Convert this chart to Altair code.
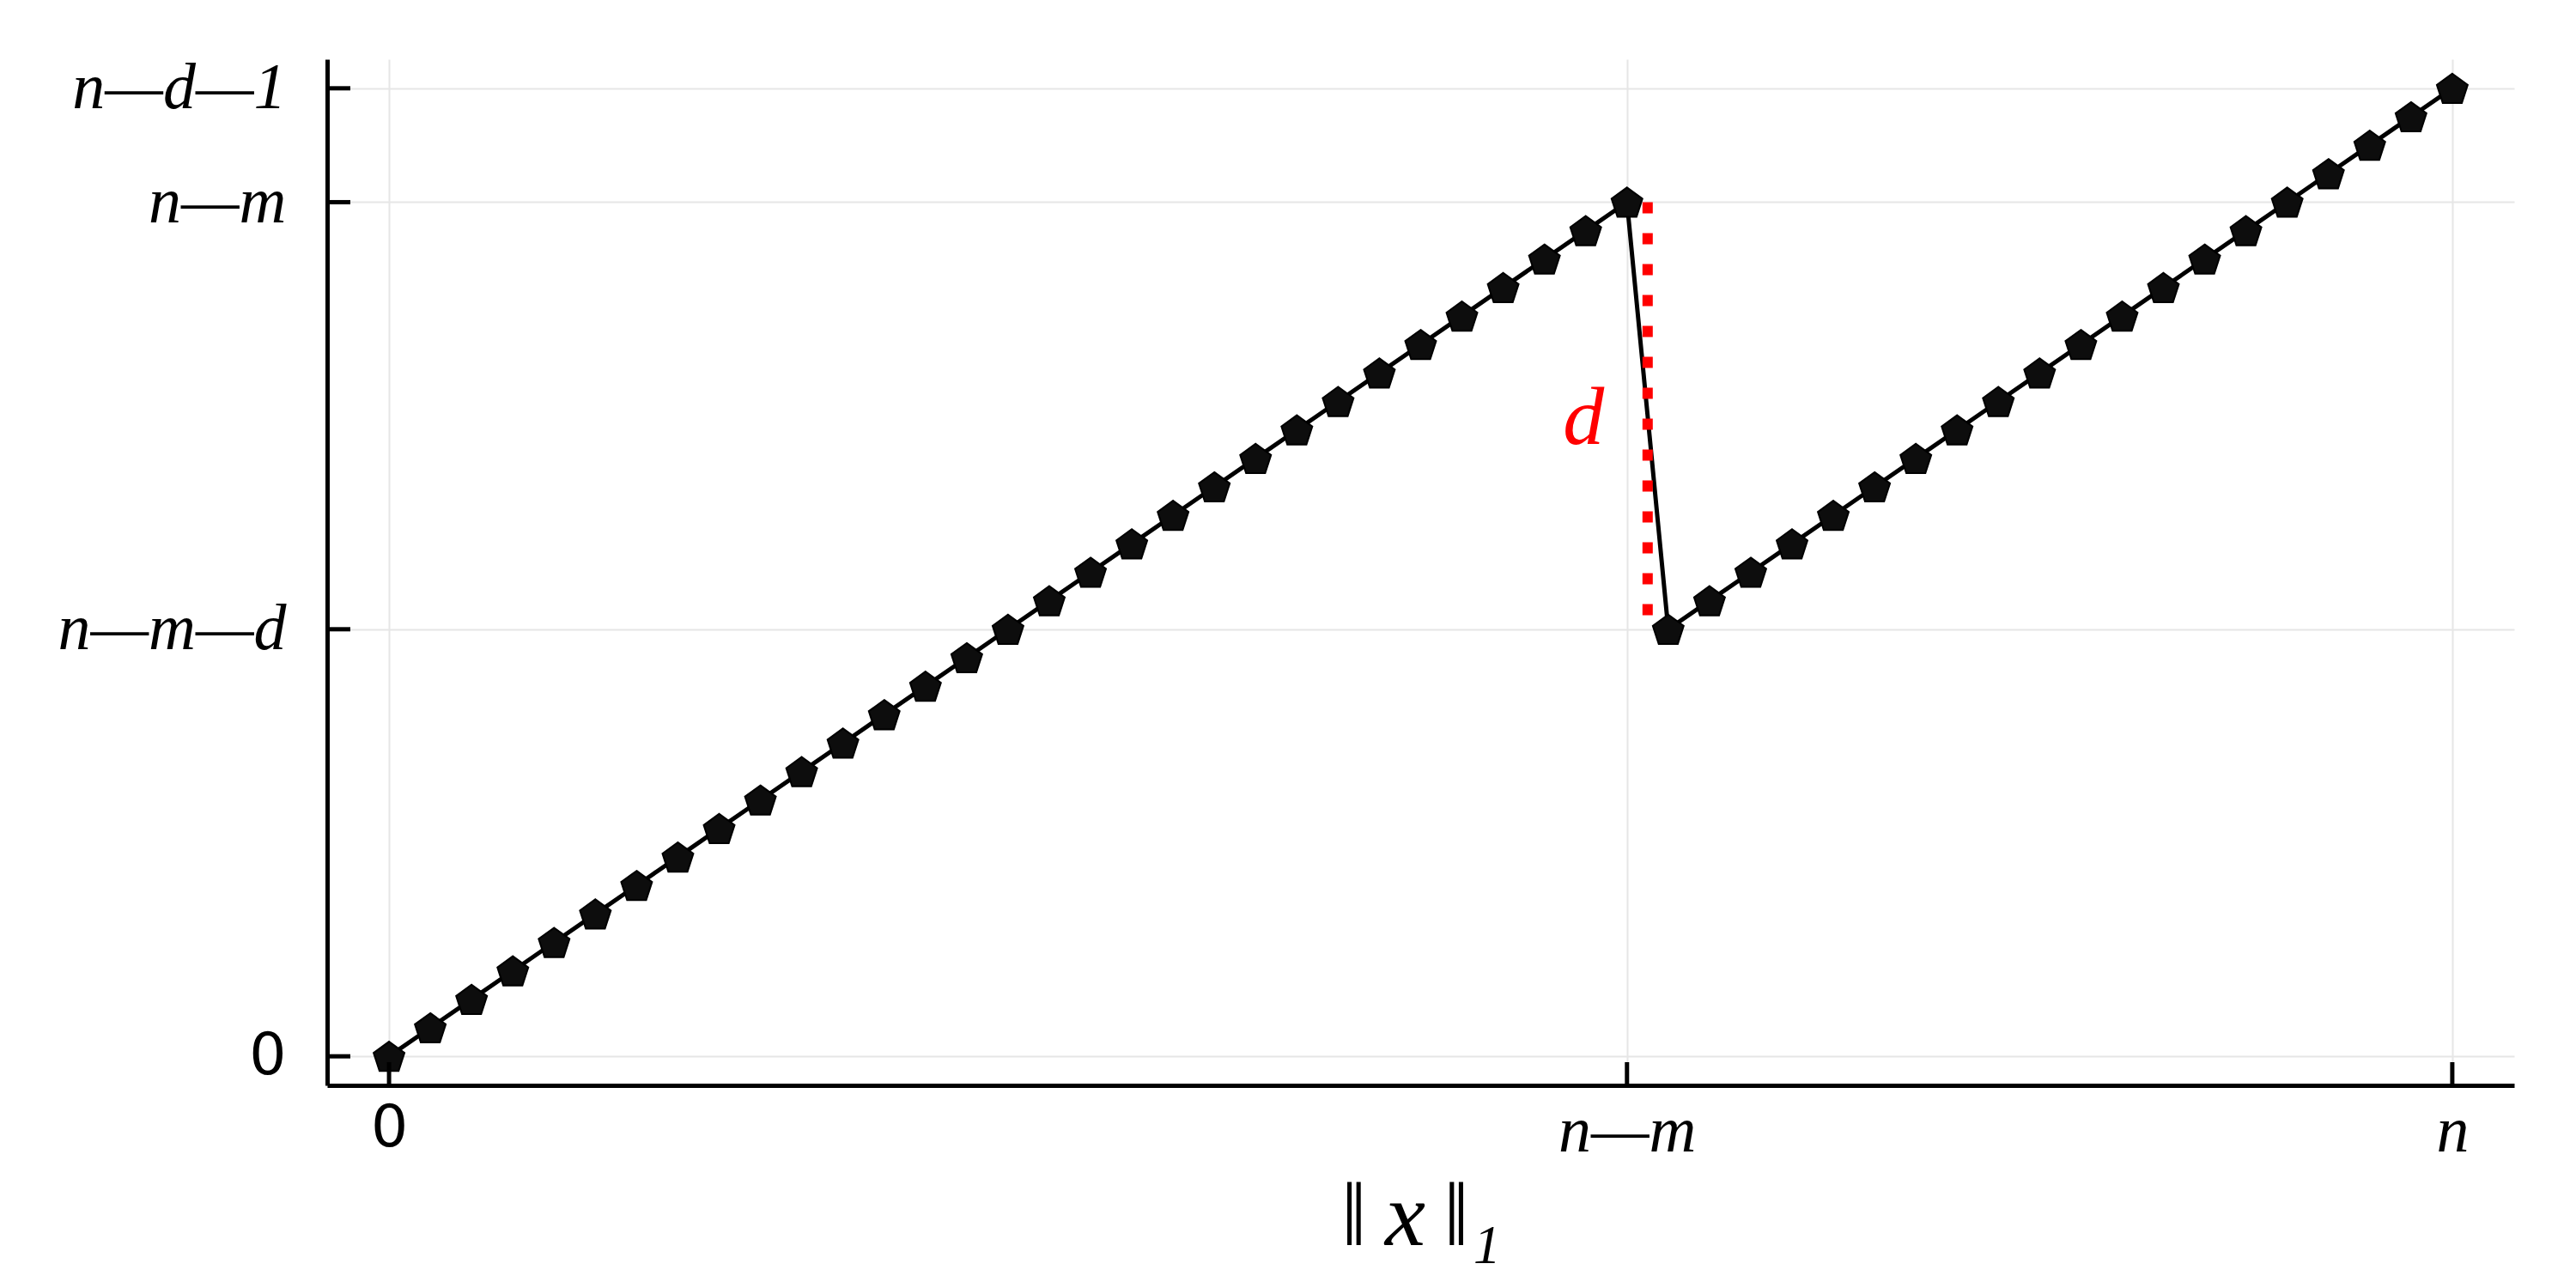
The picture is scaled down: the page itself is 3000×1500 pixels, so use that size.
import altair as alt
import pandas as pd

# ---- data ----
x_rise1 = list(range(0, 31))          # ||x||_1 = 0 .. n-m
y_rise1 = list(range(0, 31))
x_rise2 = list(range(31, 51))         # ||x||_1 = n-m+1 .. n
y_rise2 = list(range(15, 35))

x_tick_values = [0, 30, 50]
x_tick_labels = ["0", "n—m", "n"]
y_tick_values = [0, 15, 30, 34]
y_tick_labels = ["0", "n—m—d", "n—m", "n—d—1"]

gap_x = [30.5]
gap_top = [30]
gap_bottom = [15]
gap_label = ["d"]
gap_label_x = [28.95]
gap_label_y = [21.5]

x_title = "‖\u2009x\u2009‖₁"

# ---- layout ----
W, H = 2547, 1195
TICK = 27
SERIF = "Liberation Serif"
SANS = "DejaVu Sans"

pts = pd.DataFrame({"x": x_rise1 + x_rise2, "y": y_rise1 + y_rise2})
xt = pd.DataFrame({"x": x_tick_values})
yt = pd.DataFrame({"y": y_tick_values})
gap = pd.DataFrame({"x": gap_x, "y": gap_top, "y2": gap_bottom})
lab = pd.DataFrame({"x": gap_label_x, "y": gap_label_y, "t": gap_label})


def label_expr(vals, labels):
    expr = "''"
    for v, l in reversed(list(zip(vals, labels))):
        expr = f"datum.value == {v} ? '{l}' : ({expr})"
    return expr


font_cond = {"condition": {"test": "datum.value == 0", "value": SANS}, "value": SERIF}
style_cond = {"condition": {"test": "datum.value == 0", "value": "normal"}, "value": "italic"}
size_cond = {"condition": {"test": "datum.value == 0", "value": 68}, "value": 76}

xscale = alt.Scale(domain=[-1.5, 51.5], nice=False, zero=False)
yscale = alt.Scale(domain=[-1.02, 35.02], nice=False, zero=False)

xaxis = alt.Axis(
    values=x_tick_values,
    labelExpr=label_expr(x_tick_values, x_tick_labels),
    labelFont=font_cond,
    labelFontStyle=style_cond,
    labelFontSize=size_cond,
    labelColor="black",
    labelPadding=16,
    labelLimit=0,
    ticks=False,
    domainColor="black",
    domainWidth=5,
    gridColor="#e6e6e6",
    gridWidth=2,
    title=x_title,
    titleFont=SERIF,
    titleFontStyle="italic",
    titleFontWeight="normal",
    titleFontSize=106,
    titleColor="black",
    titlePadding=10,
)
yaxis = alt.Axis(
    values=y_tick_values,
    labelExpr=label_expr(y_tick_values, y_tick_labels),
    labelFont=font_cond,
    labelFontStyle=style_cond,
    labelFontSize=size_cond,
    labelColor="black",
    labelPadding=48,
    labelLimit=0,
    ticks=False,
    domainColor="black",
    domainWidth=5,
    gridColor="#e6e6e6",
    gridWidth=2,
    title=None,
)

base = alt.Chart(pts)
line = base.mark_line(color="black", strokeWidth=5).encode(
    x=alt.X("x:Q", scale=xscale, axis=xaxis),
    y=alt.Y("y:Q", scale=yscale, axis=yaxis),
)
pentagon = "M0,-0.905 L0.951,-0.214 L0.588,0.904 L-0.588,0.904 L-0.951,-0.214 Z"
points = base.mark_point(
    shape=pentagon, filled=True, fill="#0d0d0d", stroke="black",
    strokeWidth=2, size=1430, opacity=1
).encode(x="x:Q", y="y:Q")

gap_rule = alt.Chart(gap).mark_rule(
    color="red", strokeWidth=12, strokeDash=[13, 23], strokeCap="butt"
).encode(x="x:Q", y="y:Q", y2="y2:Q")

gap_text = alt.Chart(lab).mark_text(
    font=SERIF, fontStyle="italic", fontSize=96, color="red",
    align="center", baseline="alphabetic"
).encode(x="x:Q", y="y:Q", text="t:N")

xticks = alt.Chart(xt).mark_rule(color="black", strokeWidth=5).encode(
    x="x:Q", y=alt.value(H), y2=alt.value(H - TICK)
)
yticks = alt.Chart(yt).mark_rule(color="black", strokeWidth=5).encode(
    y="y:Q", x=alt.value(0), x2=alt.value(TICK)
)

chart = alt.layer(line, gap_rule, points, gap_text, xticks, yticks).properties(
    width=W, height=H,
    autosize=alt.AutoSizeParams(type="none"),
    padding={"left": 373, "top": 61, "right": 64, "bottom": 228},
    background="white",
).configure_view(stroke=None)

chart.save("out.html", embed_options={"renderer": "svg", "actions": False})
